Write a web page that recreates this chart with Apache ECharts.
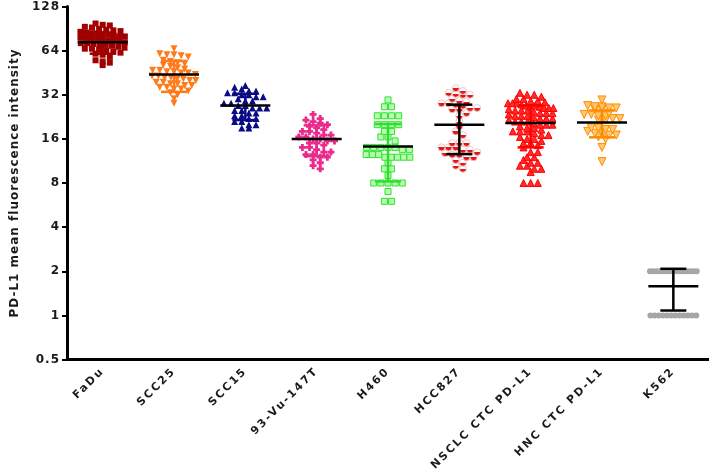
<!DOCTYPE html>
<html>
<head>
<meta charset="utf-8">
<script src="https://cdn.jsdelivr.net/npm/echarts@6/dist/echarts.min.js"></script>
<style>
  html, body { margin: 0; padding: 0; background: #fff; }
  #chart { width: 709px; height: 474px; }
</style>
</head>
<body>
<div id="chart"></div>
<script>
const categories = ['FaDu', 'SCC25', 'SCC15', '93-Vu-147T', 'H460', 'HCC827', 'NSCLC CTC PD-L1', 'HNC CTC PD-L1', 'K562']
const yTicks = [0.5, 1, 2, 4, 8, 16, 32, 64, 128]

const fadu = [98, 96, 95, 93, 92, 90, 89, 88, 87, 86, 85, 84, 84, 83, 82, 81, 80, 80, 79, 78, 77, 77, 76, 75, 75, 74, 73, 72, 72, 71, 70, 70, 69, 68, 67, 66, 66, 65, 64, 63, 62, 61, 60, 58, 55, 54, 53, 51]
const scc25 = [66, 61, 60, 60, 59, 58, 55, 54, 53, 52, 51, 50, 49, 48, 47, 47, 46, 46, 45, 45, 44, 43, 43, 42, 42, 41, 41, 40, 40, 39, 39, 38, 38, 37, 37, 36, 36, 35, 35, 34, 33, 32, 30, 28]
const scc15 = [37, 36, 35, 34, 34, 33, 33, 32, 32, 31, 31, 30, 29, 29, 28, 28, 27, 27, 26, 26, 26, 25, 25, 24, 24, 23, 23, 22, 22, 21, 21, 20, 20, 19, 19]
const vu147 = [23.5, 22, 21.5, 21, 20.5, 20, 19.5, 19, 18.5, 18, 18, 17.5, 17, 17, 16.5, 16.5, 16, 16, 15.5, 15.5, 15, 15, 14.5, 14, 14, 13.5, 13, 13, 12.5, 12.5, 12, 12, 11.5, 11, 10.5, 10]
const h460 = [29.5, 26.5, 26.5, 23, 23, 23, 23, 20, 20, 20, 20, 18, 18, 16.5, 16.5, 15.5, 14, 14, 14, 14, 14, 13.5, 13.5, 12.5, 12.5, 12.5, 12, 12, 12, 12, 12, 11, 10, 10, 9, 8, 8, 8, 8, 8, 7, 6, 6]
const hcc827 = [35.5, 34, 33, 32.5, 32, 32, 30, 29, 28.5, 28, 28, 27.5, 27, 26, 26, 25.5, 25.5, 24, 23, 21, 19.5, 18, 17, 15, 15, 15, 14, 14, 14, 13.5, 13.5, 13, 12.8, 12.5, 12.5, 12, 12, 11.5, 11, 10.5, 10]
const nsclc = [33, 32, 32, 31, 30, 30, 29, 29, 28.5, 28, 28, 28, 27.5, 27, 27, 27, 26.5, 26, 26, 26, 25.5, 25, 25, 25, 24.5, 24, 24, 24, 23.5, 23, 23, 23, 22.5, 22, 22, 22, 21.5, 21, 21, 21, 20.5, 20, 20, 20, 19.5, 19, 19, 18.5, 18, 18, 18, 17.5, 17, 17, 16.5, 16, 16, 15.5, 15, 15, 14.5, 14, 13, 13, 12, 12, 11.5, 11, 11, 10.5, 10.5, 10, 10, 9.5, 8, 8, 8]
const hnc = [29.5, 27, 26.5, 26.5, 26, 26, 25.5, 25.5, 24, 23.5, 23.5, 23, 23, 22, 22, 21.5, 21.5, 19, 19, 18.5, 18.5, 18, 17.5, 17.5, 17, 17, 16.5, 16, 14, 11.2]
const k562 = [2, 2, 2, 2, 2, 2, 2, 2, 2, 2, 2, 2, 2, 2, 2, 2, 1, 1, 1, 1, 1, 1, 1, 1, 1, 1, 1, 1]

const means = [73, 44, 27, 16, 14.2, 20, 20.5, 20.7, 1.58]
const sds = [12, 10.5, 5.5, 3.8, 6, 7.4, 6.5, 4.3, 0.5]

const groups = [fadu, scc25, scc15, vu147, h460, hcc827, nsclc, hnc, k562]

// the original uses widely spaced letters; echarts has no option for it,
// so set canvas letterSpacing (by font size) for both measuring and drawing
const spacingFor = font => (/\b11px\b/.test(font) ? '2px' : '1px')
const ctxProto = CanvasRenderingContext2D.prototype
const origFillText = ctxProto.fillText
const origMeasureText = ctxProto.measureText
ctxProto.fillText = function () {
  this.letterSpacing = spacingFor(this.font)
  return origFillText.apply(this, arguments)
}
ctxProto.measureText = function () {
  this.letterSpacing = spacingFor(this.font)
  return origMeasureText.apply(this, arguments)
}

// marker styles per group
const plus = 'path://M3,0H7V3H10V7H7V10H3V7H0V3H3Z'
const halfRed = {
  type: 'linear', x: 0, y: 0, x2: 0, y2: 1,
  colorStops: [
    { offset: 0, color: '#ffffff' }, { offset: 0.5, color: '#ffffff' },
    { offset: 0.5, color: '#e01818' }, { offset: 1, color: '#e01818' }
  ]
}
const styles = [
  { symbol: 'rect', size: 6, rotate: 0, color: '#a00000' },
  { symbol: 'triangle', size: 7, rotate: 180, color: '#ff7a1a' },
  { symbol: 'triangle', size: 7, rotate: 0, color: '#0a0a86' },
  { symbol: plus, size: 7, rotate: 0, color: '#ea2a8c' },
  { symbol: 'rect', size: 6, rotate: 0, color: '#b8ffb0', border: '#2ee02e' },
  { symbol: 'circle', size: 7, rotate: 0, color: halfRed, border: '#f0c8c8' },
  { symbol: 'triangle', size: 7, rotate: 0, color: '#ff2a2a', border: '#ff0000' },
  { symbol: 'triangle', size: 8, rotate: 180, color: '#ffc870', border: '#ff8c00' },
  { symbol: 'circle', size: 6, rotate: 0, color: '#a6a6a6' }
]
const errColors = ['#a00000', '#ff7a1a', '#0a0a86', '#ea2a8c', '#2ee02e', '#000000', '#ff0000', '#ff8c00', '#000000']

// simple beeswarm: bin by log2 value, spread each bin sideways
const BIN = 0.125
const STEP = 0.1
const MAXW = 0.7
function swarm(vals, gi) {
  const rows = {}
  vals.forEach(v => {
    const r = Math.round(Math.log2(v) / BIN)
    ;(rows[r] = rows[r] || []).push(v)
  })
  const out = []
  Object.keys(rows).forEach(key => {
    const list = rows[key]
    const n = list.length
    const s = Math.min(STEP, MAXW / n)
    list.forEach((v, k) => out.push([gi + (k - (n - 1) / 2) * s, v]))
  })
  return out
}

const labelFont = { fontFamily: 'DejaVu Sans', fontWeight: 'bold', color: '#1a1a1a' }

const chart = echarts.init(document.getElementById('chart'), null, { renderer: 'canvas' })

const scatterSeries = groups.map((vals, gi) => {
  const st = styles[gi]
  return {
    type: 'scatter',
    xAxisIndex: 1,
    yAxisIndex: 0,
    symbol: st.symbol,
    symbolSize: st.size,
    symbolRotate: st.rotate,
    itemStyle: {
      color: st.color,
      borderColor: st.border || st.color,
      borderWidth: st.border ? 1 : 0,
      opacity: 1
    },
    data: swarm(vals, gi),
    z: 2
  }
})

const errorSeries = {
  type: 'custom',
  xAxisIndex: 0,
  yAxisIndex: 0,
  z: 5,
  data: means.map((m, i) => [i, m, m - sds[i], m + sds[i]]),
  renderItem: function (params, api) {
    const i = api.value(0)
    const mid = api.coord([i, api.value(1)])
    const lo = api.coord([i, api.value(2)])
    const hi = api.coord([i, api.value(3)])
    const c = errColors[i]
    const capW = 13
    const meanW = 25
    const line = (x1, y1, x2, y2, color, w) => ({
      type: 'line',
      shape: { x1: x1, y1: y1, x2: x2, y2: y2 },
      style: { stroke: color, lineWidth: w }
    })
    return {
      type: 'group',
      children: [
        line(mid[0], lo[1], mid[0], hi[1], c, 2.5),
        line(mid[0] - capW, lo[1], mid[0] + capW, lo[1], c, 2.5),
        line(mid[0] - capW, hi[1], mid[0] + capW, hi[1], c, 2.5),
        line(mid[0] - meanW, mid[1], mid[0] + meanW, mid[1], '#000000', 2.5)
      ]
    }
  }
}

chart.setOption({
  animation: false,
  backgroundColor: '#ffffff',
  grid: { left: 61, right: 0, top: 6, bottom: 114, containLabel: false },
  xAxis: [
    {
      type: 'category',
      data: categories,
      boundaryGap: true,
      axisLine: { onZero: false, lineStyle: { color: '#000', width: 3 } },
      axisTick: { alignWithLabel: true, length: 5, lineStyle: { color: '#000', width: 2 } },
      axisLabel: Object.assign({ rotate: 45, interval: 0, fontSize: 11, margin: 10 }, labelFont),
      splitLine: { show: false }
    },
    {
      type: 'value',
      min: -0.5,
      max: 8.5,
      show: false
    }
  ],
  yAxis: {
    type: 'log',
    logBase: 2,
    min: yTicks[0],
    max: yTicks[yTicks.length - 1],
    name: 'PD-L1 mean fluorescence intensity',
    nameLocation: 'middle',
    nameGap: 46,
    nameTextStyle: Object.assign({ fontSize: 12 }, labelFont),
    axisLine: { show: true, onZero: false, lineStyle: { color: '#000', width: 3 } },
    axisTick: { show: true, length: 5, lineStyle: { color: '#000', width: 2 } },
    axisLabel: Object.assign({
      fontSize: 12,
      margin: 7,
      formatter: v => String(+(+v).toPrecision(3))
    }, labelFont),
    splitLine: { show: false }
  },
  series: scatterSeries.concat([errorSeries])
})
</script>
</body>
</html>
